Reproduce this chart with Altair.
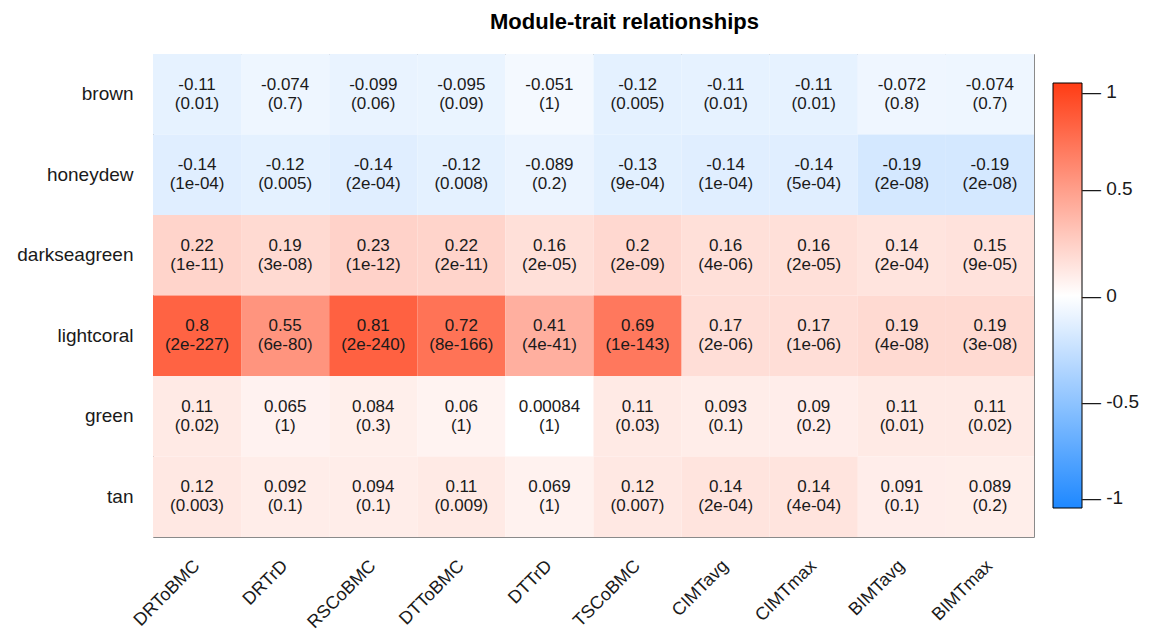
import altair as alt
import pandas as pd

modules = ["brown", "honeydew", "darkseagreen", "lightcoral", "green", "tan"]
traits = ["DRToBMC", "DRTrD", "RSCoBMC", "DTToBMC", "DTTrD", "TSCoBMC",
          "CIMTavg", "CIMTmax", "BIMTavg", "BIMTmax"]

cor_brown = [-0.11, -0.074, -0.099, -0.095, -0.051, -0.12, -0.11, -0.11, -0.072, -0.074]
p_brown = ["0.01", "0.7", "0.06", "0.09", "1", "0.005", "0.01", "0.01", "0.8", "0.7"]
cor_honeydew = [-0.14, -0.12, -0.14, -0.12, -0.089, -0.13, -0.14, -0.14, -0.19, -0.19]
p_honeydew = ["1e-04", "0.005", "2e-04", "0.008", "0.2", "9e-04", "1e-04", "5e-04", "2e-08", "2e-08"]
cor_darkseagreen = [0.22, 0.19, 0.23, 0.22, 0.16, 0.2, 0.16, 0.16, 0.14, 0.15]
p_darkseagreen = ["1e-11", "3e-08", "1e-12", "2e-11", "2e-05", "2e-09", "4e-06", "2e-05", "2e-04", "9e-05"]
cor_lightcoral = [0.8, 0.55, 0.81, 0.72, 0.41, 0.69, 0.17, 0.17, 0.19, 0.19]
p_lightcoral = ["2e-227", "6e-80", "2e-240", "8e-166", "4e-41", "1e-143", "2e-06", "1e-06", "4e-08", "3e-08"]
cor_green = [0.11, 0.065, 0.084, 0.06, 0.00084, 0.11, 0.093, 0.09, 0.11, 0.11]
p_green = ["0.02", "1", "0.3", "1", "1", "0.03", "0.1", "0.2", "0.01", "0.02"]
cor_tan = [0.12, 0.092, 0.094, 0.11, 0.069, 0.12, 0.14, 0.14, 0.091, 0.089]
p_tan = ["0.003", "0.1", "0.1", "0.009", "1", "0.007", "2e-04", "4e-04", "0.1", "0.2"]

cors = [cor_brown, cor_honeydew, cor_darkseagreen, cor_lightcoral, cor_green, cor_tan]
pvals = [p_brown, p_honeydew, p_darkseagreen, p_lightcoral, p_green, p_tan]

rows = []
for m, cr, pr in zip(modules, cors, pvals):
    for t, c, p in zip(traits, cr, pr):
        rows.append({"module": m, "trait": t, "r": c, "rlab": str(c), "plab": "(" + p + ")"})
df = pd.DataFrame(rows)

FONT = "Liberation Sans"
TXT = "#1a1a1a"

base = alt.Chart(df).encode(
    x=alt.X("trait:N", sort=traits,
            scale=alt.Scale(paddingInner=0, paddingOuter=0),
            axis=alt.Axis(title=None, labelAngle=-45, labelAlign="right",
                          labelBaseline="middle", labelPadding=26, ticks=False,
                          domain=False, labelFontSize=18, labelFont=FONT,
                          labelColor=TXT, labelLimit=300)),
    y=alt.Y("module:N", sort=modules,
            scale=alt.Scale(paddingInner=0, paddingOuter=0),
            axis=alt.Axis(title=None, ticks=False, domain=False, labelPadding=20,
                          labelFontSize=19, labelFont=FONT, labelColor=TXT)),
)

rect = base.mark_rect().encode(
    color=alt.Color("r:Q",
                    scale=alt.Scale(domain=[-1, 0, 1],
                                    range=["#1E88FF", "#FFFFFF", "#FF3C14"],
                                    interpolate="rgb"),
                    legend=alt.Legend(title=None, orient="none", legendX=900,
                                      legendY=29, direction="vertical",
                                      gradientLength=425, gradientThickness=29,
                                      gradientStrokeColor="#000000",
                                      gradientStrokeWidth=1,
                                      values=[-1, -0.5, 0, 0.5, 1],
                                      labelFontSize=19, labelFont=FONT,
                                      labelColor=TXT, labelOffset=0,
                                      labelBaseline="middle", labelLimit=200,
                                      labelExpr="'— ' + datum.value"))
)

t1 = base.mark_text(dy=-9.5, fontSize=17, font=FONT, color=TXT).encode(text="rlab:N")
t2 = base.mark_text(dy=9.5, fontSize=17, font=FONT, color=TXT).encode(text="plab:N")

chart = alt.layer(rect, t1, t2).properties(
    width=881, height=483,
    title=alt.TitleParams("Module-trait relationships", fontSize=22,
                          fontWeight="bold", font=FONT, color="#000000",
                          anchor="middle", dx=31, offset=20),
    autosize=alt.AutoSizeParams(type="none"),
    padding={"left": 145, "top": 46, "right": 114, "bottom": 96},
).configure_view(stroke="#8a8a8a", strokeWidth=1)

chart.save("out.html", embed_options={"renderer": "svg", "actions": False})
